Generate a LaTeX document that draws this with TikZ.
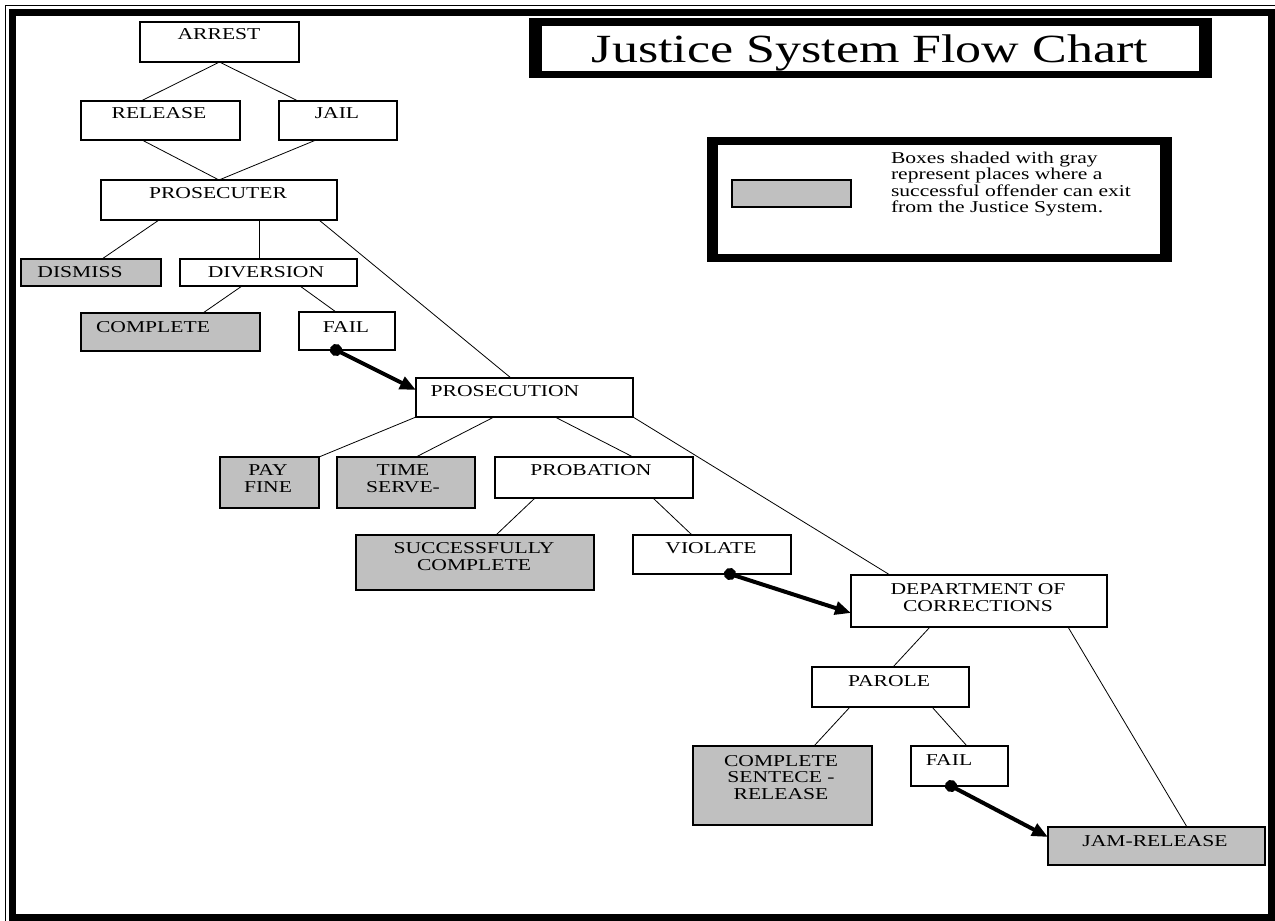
\documentclass[tikz,border=0pt]{standalone}
\usepackage{fontspec}
\setmainfont{Liberation Serif}[FakeStretch=1.3]
\usetikzlibrary{arrows.meta,fit}
\definecolor{boxgray}{RGB}{192,192,192}
\newcommand\jbox[6]{\node[#1, fit={(#3,#4)(#5,#6)}] (#2) {};}
\begin{document}
\begin{tikzpicture}[x=1pt,y=-1pt,
  bx/.style={draw=black, line width=1.1pt, inner sep=0pt, outer sep=0pt, fill=white},
  gbx/.style={bx, fill=boxgray},
  lbl/.style={inner sep=0pt, outer sep=0pt, align=center, anchor=north, font=\fontsize{16.6}{16.7}\selectfont},
  conn/.style={draw=black, line width=0.8pt},
  flow/.style={draw=black, line width=4pt, shorten <=-6pt, {Circle[length=12pt]}-{Triangle[length=16pt,width=13pt]}},
  solid/.style={inner sep=0pt, outer sep=0pt},
]
\useasboundingbox (0,0) rectangle (1275,921);
\clip (0,0) rectangle (1275,921);
\fill[white] (0,0) rectangle (1275,921);
% outer frame
\draw[line width=1.5pt] (5.5,5.5) rectangle (1290,940);
\draw[line width=7pt] (12.5,12.5) rectangle (1271,917);

% title
\node[solid, fill=black, fit={(529,18)(1212,78)}] (titlebox) {};
\node[solid, fill=white, fit={(542,26)(1199,71)}] (titlein) {};
\node[solid, anchor=base, font=\fontsize{40}{40}\selectfont] (title) at (870,62) {Justice System Flow Chart};

% legend
\node[solid, fill=black, fit={(707,137)(1172,262)}] (legbox) {};
\node[solid, fill=white, fit={(718,145)(1160,254)}] (legin) {};
\jbox{gbx}{legsample}{732}{180}{851}{207}
\node[solid, anchor=north west, align=left, font=\fontsize{16.6}{16.4}\selectfont] (legtext) at (891,152)
  {Boxes shaded with gray\\represent places where a\\successful offender can exit\\from the Justice System.};

% boxes
\jbox{bx}{arrest}{140}{22}{299}{62}
\jbox{bx}{release}{81}{101}{240}{140}
\jbox{bx}{jail}{279}{101}{397}{140}
\jbox{bx}{prosecuter}{101}{180}{337}{220}
\jbox{gbx}{dismiss}{21}{259}{161}{286}
\jbox{bx}{diversion}{180}{259}{357}{286}
\jbox{gbx}{complete}{81}{313}{260}{351}
\jbox{bx}{failA}{299}{312}{395}{350}
\jbox{bx}{prosecution}{416}{378}{633}{417}
\jbox{gbx}{payfine}{220}{457}{319}{508}
\jbox{gbx}{timeserve}{337}{457}{475}{508}
\jbox{bx}{probation}{495}{457}{693}{498}
\jbox{gbx}{success}{356}{535}{594}{590}
\jbox{bx}{violate}{633}{535}{791}{574}
\jbox{bx}{dept}{851}{575}{1107}{627}
\jbox{bx}{parole}{812}{667}{969}{707}
\jbox{gbx}{csr}{693}{746}{872}{825}
\jbox{bx}{failB}{911}{746}{1008}{786}
\jbox{gbx}{jam}{1048}{827}{1265}{865}

% labels
\node[lbl] (arrest-t) at (219,29) {ARREST};
\node[lbl] (release-t) at (159,108) {RELEASE};
\node[lbl] (jail-t) at (337,108) {JAIL};
\node[lbl] (prosecuter-t) at (218,188) {PROSECUTER};
\node[lbl] (dismiss-t) at (80,267) {DISMISS};
\node[lbl] (diversion-t) at (266,267) {DIVERSION};
\node[lbl] (complete-t) at (153,322) {COMPLETE};
\node[lbl] (failA-t) at (346,322) {FAIL};
\node[lbl] (prosecution-t) at (505,386) {PROSECUTION};
\node[lbl] (payfine-t) at (268,465) {PAY\\FINE};
\node[lbl] (timeserve-t) at (403,465) {TIME\\SERVE-};
\node[lbl] (probation-t) at (591,465) {PROBATION};
\node[lbl] (success-t) at (474,543) {SUCCESSFULLY\\COMPLETE};
\node[lbl] (violate-t) at (711,543) {VIOLATE};
\node[lbl] (dept-t) at (978,584) {DEPARTMENT OF\\CORRECTIONS};
\node[lbl] (parole-t) at (889,676) {PAROLE};
\node[lbl] (csr-t) at (781,755) {COMPLETE\\SENTECE -\\RELEASE};
\node[lbl] (failB-t) at (949,755) {FAIL};
\node[lbl] (jam-t) at (1155,835) {JAM-RELEASE};

% connectors
\draw[conn] (arrest.south) -- ([xshift=60pt]release.north west);
\draw[conn] (arrest.south) -- ([xshift=19pt]jail.north west);
\draw[conn] ([xshift=61pt]release.south west) -- (prosecuter.north);
\draw[conn] ([xshift=37pt]jail.south west) -- (prosecuter.north);
\draw[conn] ([xshift=58pt]prosecuter.south west) -- ([xshift=81pt]dismiss.north west);
\draw[conn] ([xshift=158pt]prosecuter.south west) -- ([xshift=79pt]diversion.north west);
\draw[conn] ([xshift=218pt]prosecuter.south west) -- ([xshift=95pt]prosecution.north west);
\draw[conn] ([xshift=62pt]diversion.south west) -- ([xshift=122pt]complete.north west);
\draw[conn] ([xshift=120pt]diversion.south west) -- ([xshift=37pt]failA.north west);
\draw[conn] (prosecution.south west) -- (payfine.north east);
\draw[conn] ([xshift=78pt]prosecution.south west) -- ([xshift=79pt]timeserve.north west);
\draw[conn] ([xshift=139pt]prosecution.south west) -- ([xshift=138pt]probation.north west);
\draw[conn] (prosecution.south east) -- ([xshift=39pt]dept.north west);
\draw[conn] ([xshift=40pt]probation.south west) -- ([xshift=140pt]success.north west);
\draw[conn] ([xshift=158pt]probation.south west) -- ([xshift=59pt]violate.north west);
\draw[conn] ([xshift=79pt]dept.south west) -- ([xshift=81pt]parole.north west);
\draw[conn] ([xshift=217pt]dept.south west) -- ([xshift=139pt]jam.north west);
\draw[conn] ([xshift=38pt]parole.south west) -- ([xshift=121pt]csr.north west);
\draw[conn] ([xshift=120pt]parole.south west) -- ([xshift=56pt]failB.north west);

% thick flow arrows
\draw[flow] ([xshift=37pt]failA.south west) -- ([yshift=-12pt]prosecution.north west);
\draw[flow] ([xshift=97pt]violate.south west) -- ([yshift=-38pt]dept.north west);
\draw[flow] ([xshift=40pt]failB.south west) -- ([yshift=-10pt]jam.north west);
\end{tikzpicture}
\end{document}
